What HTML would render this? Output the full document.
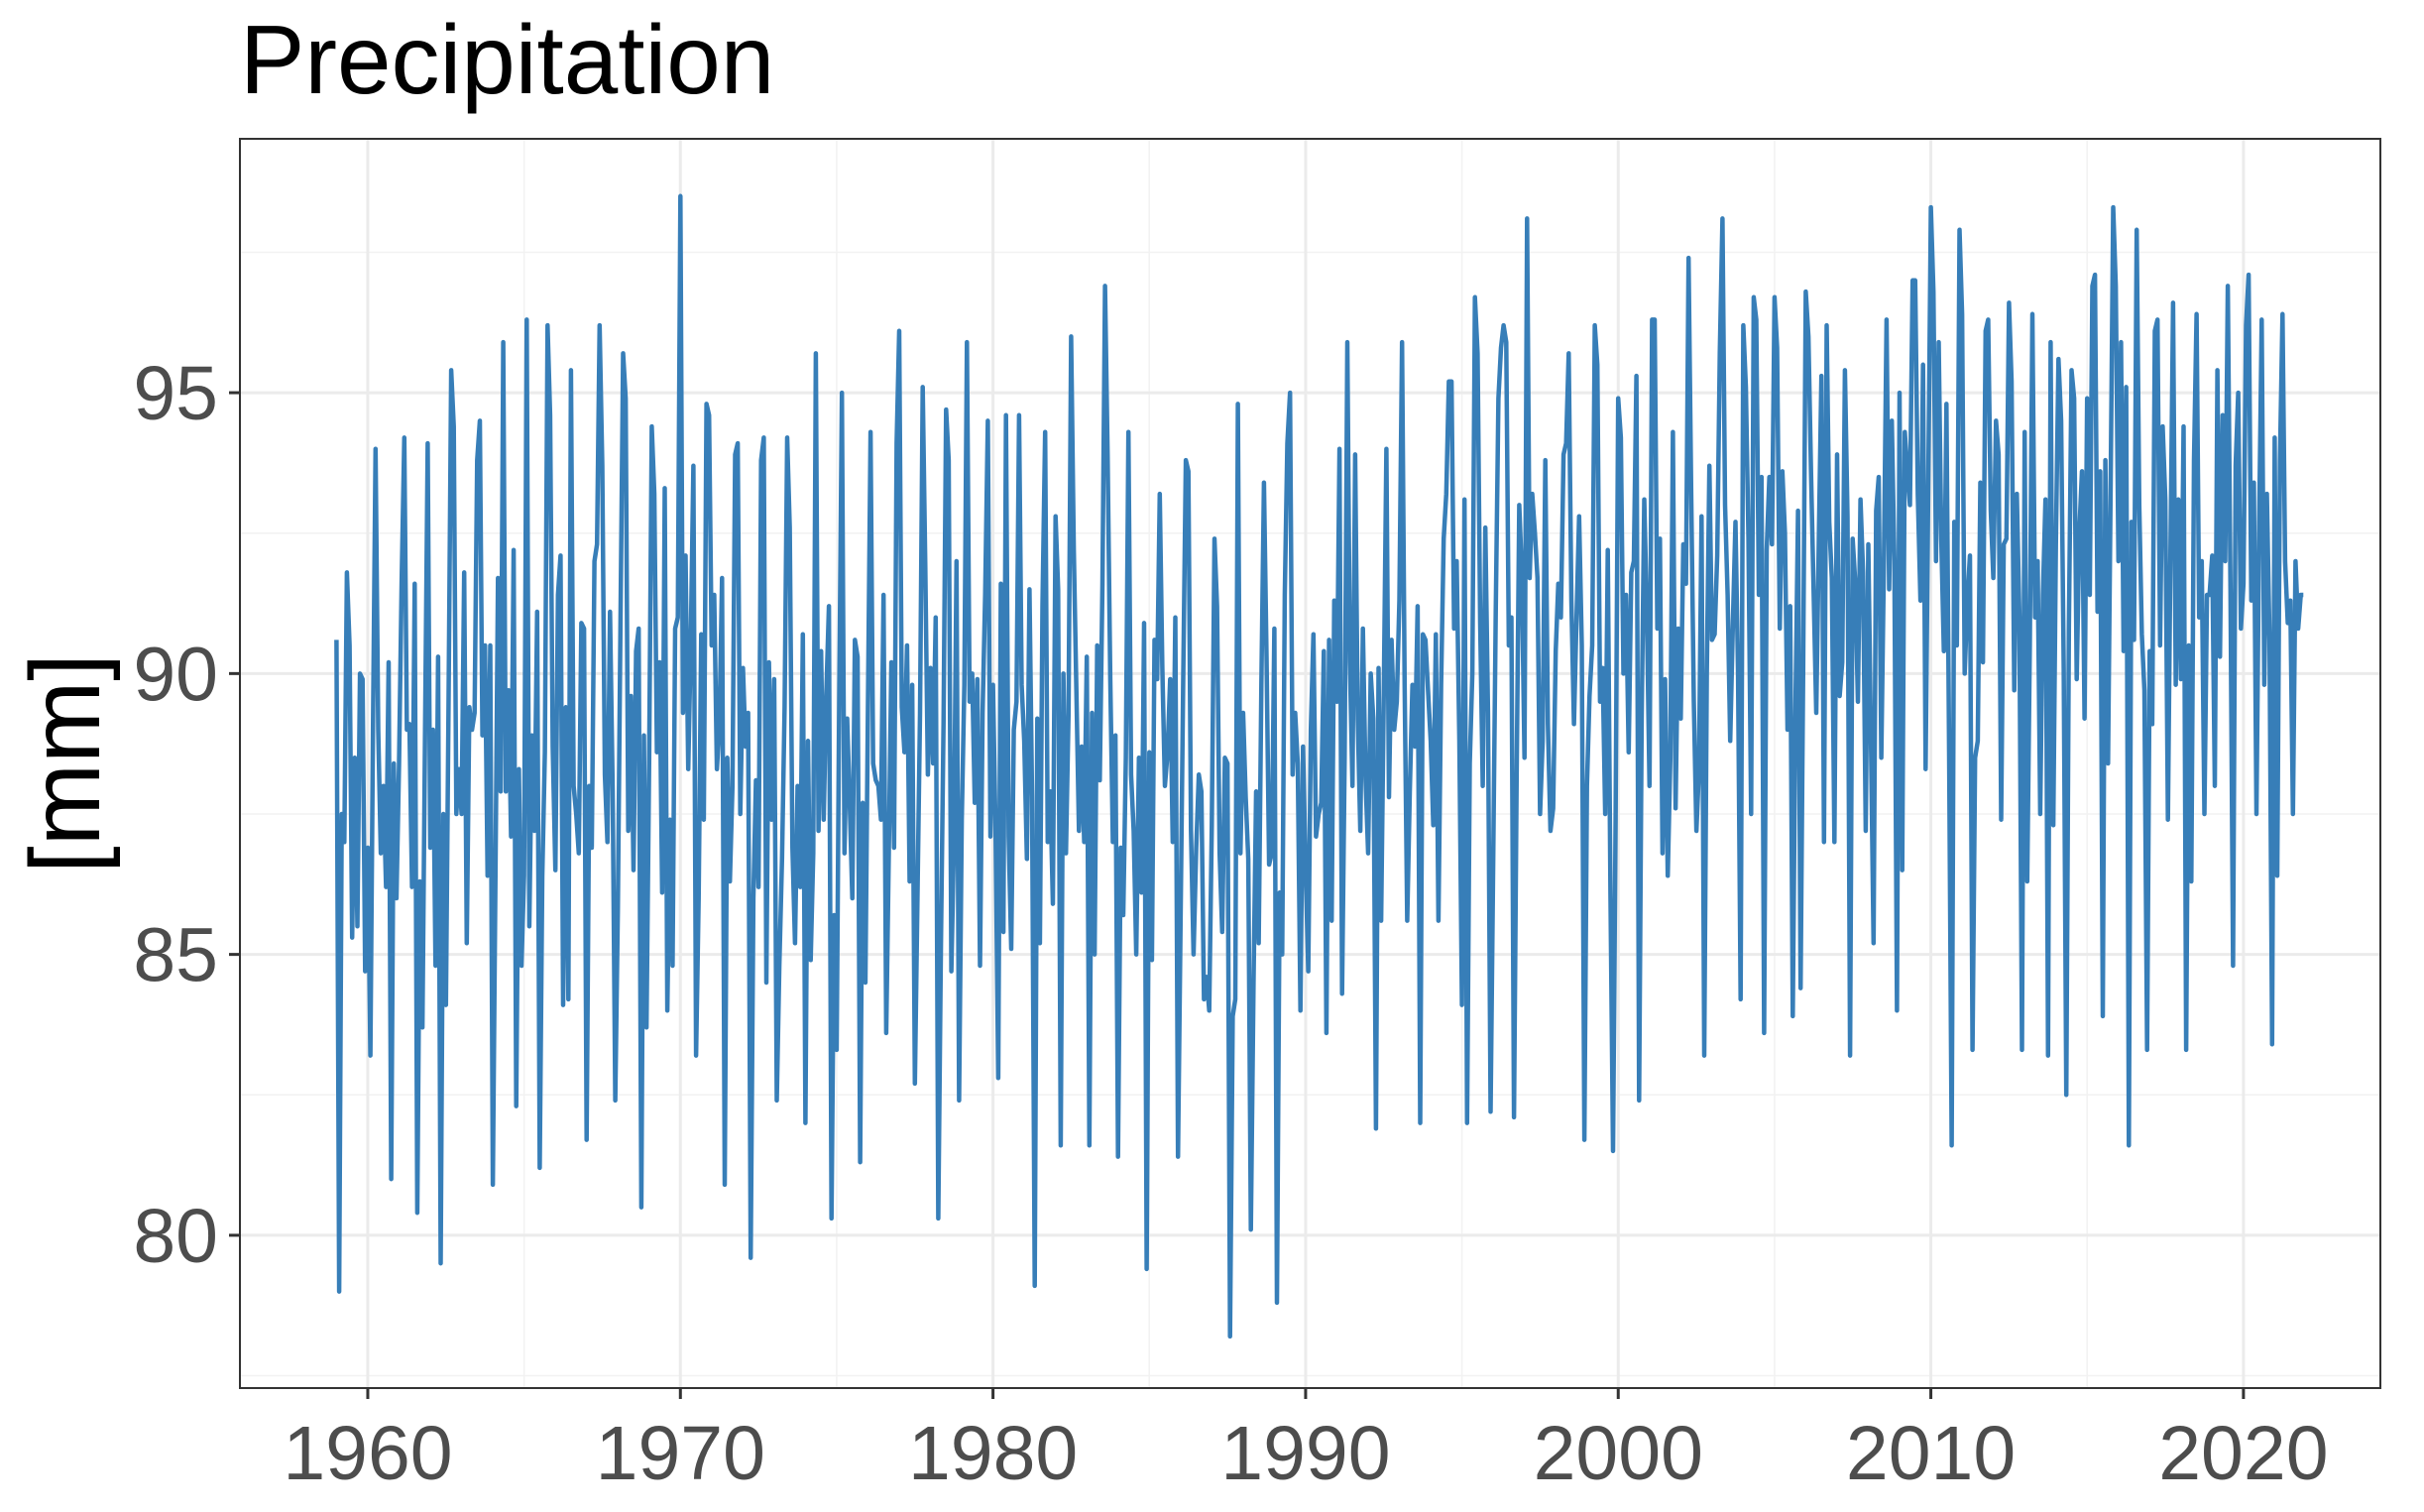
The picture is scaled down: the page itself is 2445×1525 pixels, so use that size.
<!DOCTYPE html>
<html><head><meta charset="utf-8"><style>
html,body{margin:0;padding:0;background:#fff;}
svg{display:block;font-family:"Liberation Sans",Arial,sans-serif;}
</style></head><body>
<svg id="chart" width="2445" height="1525" viewBox="0 0 2445 1525" xmlns="http://www.w3.org/2000/svg">
<rect width="2445" height="1525" fill="#fff"/>
<text x="242" y="94" font-size="98" fill="#000">Precipitation</text>
<text transform="translate(100,770) rotate(-90)" text-anchor="middle" font-size="100" fill="#000">[mm]</text>
<g id="grid"></g>
<g id="series"></g>
<rect x="242" y="140" width="2159" height="1260" fill="none" stroke="#333" stroke-width="2"/>
<g id="axes"></g>
</svg>
<script>
const startYear = 1959;
const precipitation = [
90.6,79.0,87.5,87.0,91.8,90.5,85.3,88.5,85.5,90.0,89.9,84.7,
86.9,83.2,89.0,94.0,89.0,86.8,88.0,86.2,90.2,81.0,88.4,86.0,
88.4,91.6,94.2,89.0,89.1,86.2,91.6,80.4,86.3,83.7,89.1,94.1,
86.9,89.0,84.8,90.3,79.5,87.5,84.1,89.4,95.4,94.4,87.5,88.3,
87.5,91.8,85.2,89.4,89.0,89.3,93.8,94.5,88.9,90.5,86.4,90.5,
80.9,86.3,91.7,87.9,95.9,87.9,89.7,87.1,92.2,82.3,88.3,84.8,
86.4,96.3,85.5,88.9,87.2,91.1,81.2,86.4,88.6,96.2,94.6,88.7,
86.5,91.4,92.1,84.1,89.4,84.2,95.4,88.0,87.5,86.8,90.9,90.8,
81.7,88.0,86.9,92.0,92.3,96.2,93.7,88.2,87.0,91.1,87.9,82.4,
85.8,91.0,95.7,94.9,87.2,89.6,86.5,90.4,90.8,80.5,88.9,83.7,
88.5,94.4,93.2,88.6,90.2,86.1,93.3,84.0,87.4,84.8,90.8,91.0,
98.5,89.3,92.1,88.3,90.6,93.7,83.2,86.0,90.7,87.4,94.8,94.6,
90.5,91.4,88.3,89.1,91.7,80.9,88.5,86.3,88.0,93.9,94.1,87.5,
90.1,88.7,89.3,79.6,86.0,88.1,86.2,93.8,94.2,84.5,90.2,87.4,
89.9,82.4,84.8,86.7,89.4,94.2,92.6,86.9,85.2,88.0,86.2,90.7,
82.0,88.8,84.9,86.8,95.7,87.2,90.4,87.4,89.6,91.2,80.3,85.7,
83.3,89.8,95.0,86.8,89.2,87.7,86.0,90.6,90.3,81.3,87.7,84.5,
89.5,94.3,88.4,88.1,88.0,87.4,91.4,83.6,86.8,90.2,86.9,94.1,
96.1,89.4,88.6,90.5,86.3,89.8,82.7,86.0,89.3,95.1,91.9,88.2,
90.1,88.4,91.0,80.3,85.2,89.1,94.7,93.8,84.7,87.0,92.0,82.4,
87.4,89.8,95.9,89.5,90.0,87.7,89.9,84.8,89.3,91.4,94.5,87.1,
89.8,87.2,82.8,91.6,85.4,94.6,87.1,85.1,89.0,89.5,94.6,89.8,
88.8,86.7,91.5,87.8,79.1,89.2,85.2,91.2,94.3,87.0,87.9,85.9,
92.8,91.5,81.6,90.0,86.8,89.3,96.0,92.2,89.7,87.2,88.7,87.0,
90.3,81.6,89.3,85.0,90.5,88.1,91.6,96.9,93.9,89.9,87.0,88.9,
81.4,86.9,85.7,88.5,94.3,88.2,87.2,85.0,88.5,86.1,90.9,79.4,
88.6,84.9,90.6,89.9,93.2,90.1,88.0,88.6,89.9,87.0,91.0,81.4,
85.6,89.8,93.8,93.6,87.2,85.0,86.9,88.2,87.9,84.2,84.6,84.0,
87.3,92.4,91.2,86.8,85.4,88.5,88.4,78.2,83.9,84.2,94.8,86.8,
89.3,87.8,86.7,80.1,84.5,87.9,85.2,89.8,93.4,90.3,86.6,86.8,
90.8,78.8,86.1,85.0,91.4,94.1,95.0,88.2,89.3,88.4,84.0,88.7,
86.6,84.7,89.0,90.7,87.1,87.5,87.7,90.4,83.6,90.6,85.6,91.3,
89.5,94.0,84.3,88.5,95.9,90.2,88.0,93.9,89.2,87.2,90.8,88.1,
86.8,90.0,89.2,81.9,90.1,85.6,89.7,94.0,87.8,90.6,89.0,89.5,
91.3,95.9,89.8,85.6,87.9,89.8,88.7,91.2,82.0,90.7,90.6,89.7,
88.8,87.3,90.7,85.6,89.8,92.4,93.2,95.2,95.2,90.8,92.0,88.8,
84.1,93.1,82.0,88.4,90.0,96.7,95.7,90.9,88.0,92.6,89.3,82.2,
86.6,91.1,94.9,95.8,96.2,95.9,90.5,91.0,82.1,88.2,93.0,91.8,
88.5,98.1,91.7,93.2,92.5,91.7,87.5,88.8,93.8,89.1,87.2,87.6,
90.4,91.6,91.0,93.9,94.1,95.7,91.3,89.1,91.0,92.8,90.5,81.7,
88.0,89.6,90.5,96.2,95.5,89.5,90.1,87.5,92.2,86.1,81.5,87.4,
94.9,94.2,90.0,91.4,88.6,91.8,92.0,95.3,82.4,89.2,93.1,91.0,
88.0,96.3,96.3,90.8,92.4,86.8,89.9,86.4,88.5,94.3,87.6,90.8,
89.2,92.3,91.6,97.4,93.3,89.5,87.2,88.3,92.8,83.2,90.0,93.7,
90.6,90.7,92.1,95.7,98.1,93.0,91.4,88.8,90.9,92.7,90.0,84.2,
96.2,95.1,92.4,87.5,96.7,96.3,91.4,93.5,83.6,92.2,93.5,92.3,
96.7,95.8,90.8,93.6,92.5,89.0,91.2,83.9,89.2,92.9,84.4,90.1,
96.8,96.0,93.6,91.5,89.3,92.4,95.3,87.0,96.2,92.7,91.7,87.0,
93.9,89.6,90.2,95.4,92.8,83.2,92.4,91.6,89.5,93.1,91.8,87.2,
92.3,88.9,85.2,92.9,93.5,88.5,92.1,96.3,91.5,94.5,92.0,84.0,
95.0,86.5,94.3,93.6,93.0,97.0,97.0,93.2,91.3,95.5,88.3,93.2,
98.3,96.8,92.0,95.9,92.4,90.4,94.8,88.6,81.6,92.7,90.5,97.9,
96.4,90.0,91.3,92.1,83.3,88.5,88.8,93.4,90.2,96.1,96.3,92.9,
91.7,94.5,93.9,87.4,92.3,92.4,96.6,95.2,89.7,93.2,91.0,83.3,
94.3,86.3,90.5,96.4,91.0,92.0,87.5,91.4,93.1,83.2,95.9,87.3,
92.3,95.6,94.5,90.1,82.5,90.8,95.4,94.9,89.9,92.5,93.6,89.2,
94.9,91.4,96.9,97.1,91.1,93.6,83.9,93.8,88.4,93.3,98.3,96.9,
92.0,95.9,90.4,95.1,81.6,92.7,90.6,97.9,93.0,90.7,89.7,83.3,
90.4,89.1,96.1,96.3,90.5,94.4,93.1,87.4,92.2,96.6,89.8,93.1,
89.9,94.4,83.3,90.5,86.3,93.8,96.4,91.0,92.0,87.5,91.4,91.4,
92.1,88.0,95.4,90.3,94.6,92.0,96.9,91.5,84.8,93.7,95.0,90.8,
91.6,96.2,97.1,91.3,93.4,87.5,92.6,96.3,89.8,93.2,90.6,83.4,
94.2,86.4,93.8,96.4,92.0,90.9,91.3,87.5,92.0,90.8,91.4,91.4
];
const xTicks = [1960,1970,1980,1990,2000,2010,2020];
const xMinor = [1965,1975,1985,1995,2005,2015];
const yTicks = [80,85,90,95];
const yMinor = [77.5,82.5,87.5,92.5,97.5];

const L=242,R=2401,T=140,B=1400;
const xMin=1955.91,xMax=2024.38,yMin=77.28,yMax=99.52;
const xs=v=>L+(v-xMin)/(xMax-xMin)*(R-L);
const ys=v=>B-(v-yMin)/(yMax-yMin)*(B-T);
const NS="http://www.w3.org/2000/svg";
function mk(tag,attrs,parent){const e=document.createElementNS(NS,tag);for(const k in attrs)e.setAttribute(k,attrs[k]);parent.appendChild(e);return e;}
const grid=document.getElementById('grid'),axes=document.getElementById('axes'),series=document.getElementById('series');
yMinor.forEach(v=>{const y=ys(v);if(y<T||y>B)return;const l=mk('line',{x1:L,x2:R,y1:y,y2:y,stroke:'#f2f2f2','stroke-width':1.5},grid);

});
xMinor.forEach(v=>{const x=xs(v);const l=mk('line',{x1:x,x2:x,y1:T,y2:B,stroke:'#f2f2f2','stroke-width':1.5},grid);

});
yTicks.forEach(v=>{const y=ys(v);
const l=mk('line',{x1:L,x2:R,y1:y,y2:y,stroke:'#ebebeb','stroke-width':3},grid);


const t=mk('line',{x1:L-11,x2:L,y1:y,y2:y,stroke:'#333','stroke-width':3},axes);


const tx=mk('text',{x:L-22,y:y+27,'text-anchor':'end','font-size':77,fill:'#4d4d4d'},axes);tx.textContent=v;

});
xTicks.forEach(v=>{const x=xs(v);
const l=mk('line',{x1:x,x2:x,y1:T,y2:B,stroke:'#ebebeb','stroke-width':3},grid);


const t=mk('line',{x1:x,x2:x,y1:B,y2:B+11,stroke:'#333','stroke-width':3},axes);


const tx=mk('text',{x:x,y:B+92,'text-anchor':'middle','font-size':77,fill:'#4d4d4d'},axes);tx.textContent=v;

});
const pts=precipitation.map((v,i)=>xs(startYear+i/12).toFixed(1)+','+ys(v).toFixed(1)).join(' ');
const line=mk('polyline',{points:pts,fill:'none',stroke:'#377eb8','stroke-width':4.5,'stroke-linejoin':'round'},series);


</script>
</body></html>
